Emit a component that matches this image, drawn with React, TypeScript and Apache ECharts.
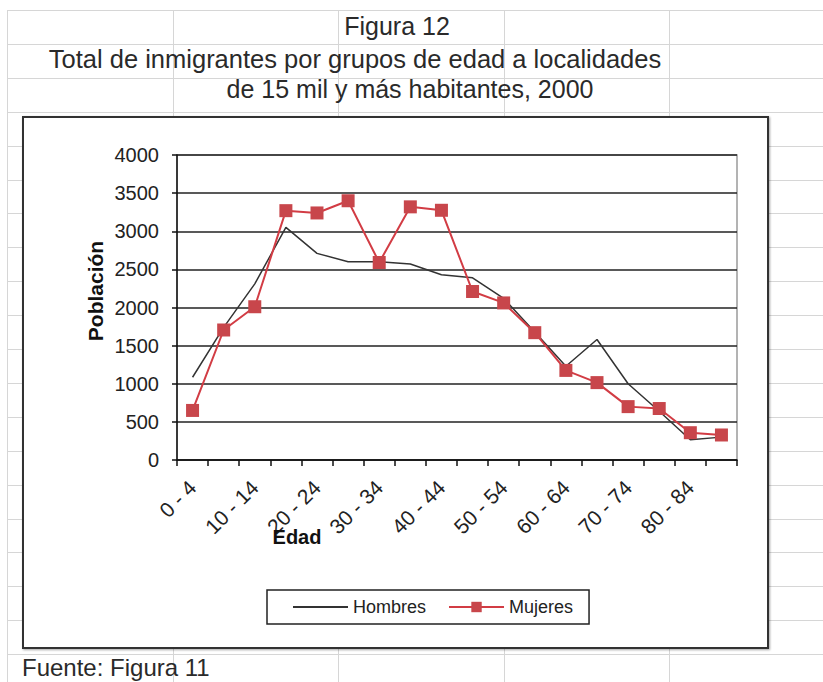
import React, { useEffect, useRef } from "react";
import * as echarts from "echarts";

const categories = [
  "0 - 4", "5 - 9", "10 - 14", "15 - 19", "20 - 24", "25 - 29", "30 - 34", "35 - 39", "40 - 44",
  "45 - 49", "50 - 54", "55 - 59", "60 - 64", "65 - 69", "70 - 74", "75 - 79", "80 - 84", "85 - 89",
];
const hombres = [1085, 1740, 2310, 3050, 2710, 2600, 2600, 2570, 2430, 2390, 2120, 1680, 1230, 1580, 1000, 640, 265, 300];
const mujeres = [650, 1705, 2010, 3270, 3240, 3400, 2590, 3320, 3275, 2210, 2060, 1670, 1175, 1015, 700, 675, 358, 328];

const titleLines = ["Figura 12", "Total de inmigrantes por grupos de edad a localidades", "de 15 mil y más habitantes, 2000"];
const sourceText = "Fuente: Figura 11";
const yName = "Población";
const xName = "Edad";

const FONT = "'Liberation Sans', Arial, sans-serif";

export default function App() {
  const ref = useRef<HTMLDivElement>(null);
  useEffect(() => {
    if (!ref.current) return;
    const chart = echarts.init(ref.current, null, { renderer: "svg" });

    const sheet: any[] = [];
    for (let k = 0; k < 20; k++) {
      const y = Math.round(10 + 33.9 * k) + 0.5;
      sheet.push({ type: "line", z: -20, silent: true, shape: { x1: 7, y1: y, x2: 823, y2: y }, style: { stroke: "#d6d6d6", lineWidth: 1 } });
    }
    [7, 173, 338, 504, 669].forEach((x) => {
      sheet.push({ type: "line", z: -20, silent: true, shape: { x1: x + 0.5, y1: 10, x2: x + 0.5, y2: 682 }, style: { stroke: "#d6d6d6", lineWidth: 1 } });
    });

    chart.setOption({
      animation: false,
      backgroundColor: "#fff",
      graphic: [
        ...sheet,
        {
          type: "rect", z: -10, silent: true,
          shape: { x: 23, y: 117, width: 745, height: 531 },
          style: { fill: "#fff", stroke: "#333", lineWidth: 2, shadowColor: "rgba(0,0,0,0.35)", shadowBlur: 2, shadowOffsetX: 1, shadowOffsetY: 1 },
        },
        { type: "text", z: 5, x: 397, y: 26, style: { text: titleLines[0], font: `25px ${FONT}`, fill: "#2a2a2a", align: "center", verticalAlign: "middle" } },
        { type: "text", z: 5, x: 355, y: 59, style: { text: titleLines[1], font: `25.5px ${FONT}`, fill: "#2a2a2a", align: "center", verticalAlign: "middle" } },
        { type: "text", z: 5, x: 410, y: 89, style: { text: titleLines[2], font: `25px ${FONT}`, fill: "#2a2a2a", align: "center", verticalAlign: "middle" } },
        { type: "text", z: 5, x: 22, y: 667, style: { text: sourceText, font: `24px ${FONT}`, fill: "#2a2a2a", align: "left", verticalAlign: "middle" } },
        { type: "text", z: 5, x: 95, y: 291, rotation: Math.PI / 2, style: { text: yName, font: `bold 21px ${FONT}`, fill: "#111", align: "center", verticalAlign: "middle" } },
        { type: "text", z: 5, x: 297, y: 537, style: { text: xName, font: `bold 20px ${FONT}`, fill: "#111", align: "center", verticalAlign: "middle" } },
      ],
      grid: { left: 177, top: 155, width: 560, height: 305, show: true, borderColor: "#9a9a9a", borderWidth: 1.5, backgroundColor: "transparent" },
      legend: {
        left: 267, top: 590, orient: "horizontal",
        itemWidth: 55, itemHeight: 13, itemGap: 22,
        padding: [8, 16, 8, 25],
        borderColor: "#222", borderWidth: 1.5, backgroundColor: "#fff",
        textStyle: { fontSize: 18, fontFamily: FONT, color: "#222" },
        data: [
          { name: "Hombres", itemStyle: { opacity: 0 } },
          { name: "Mujeres" },
        ],
      },
      xAxis: {
        type: "category", data: categories, boundaryGap: true,
        axisLine: { lineStyle: { color: "#111", width: 1.5 } },
        axisTick: { show: true, interval: 0, length: 6, lineStyle: { color: "#111", width: 1.5 } },
        axisLabel: { interval: 1, rotate: 45, margin: 24, fontSize: 21, fontFamily: FONT, color: "#222" },
        splitLine: { show: false },
      },
      yAxis: {
        type: "value", min: 0, max: 4000, interval: 500,
        axisLine: { show: true, lineStyle: { color: "#111", width: 1.5 } },
        axisTick: { show: true, length: 5, lineStyle: { color: "#111", width: 1.5 } },
        axisLabel: { margin: 18, fontSize: 20, fontFamily: FONT, color: "#222", formatter: (v: number) => String(v) },
        splitLine: { show: true, lineStyle: { color: "#222", width: 1.5 } },
      },
      series: [
        {
          name: "Hombres", type: "line", data: hombres, symbol: "none",
          lineStyle: { color: "#333", width: 1.5 }, itemStyle: { color: "#444" },
        },
        {
          name: "Mujeres", type: "line", data: mujeres, symbol: "rect", symbolSize: 13,
          lineStyle: { color: "#d23c44", width: 2 }, itemStyle: { color: "#c8464b" },
        },
      ],
    });
    return () => chart.dispose();
  }, []);
  return <div ref={ref} style={{ position: "absolute", left: 0, top: 0, width: 823, height: 682 }} />;
}
